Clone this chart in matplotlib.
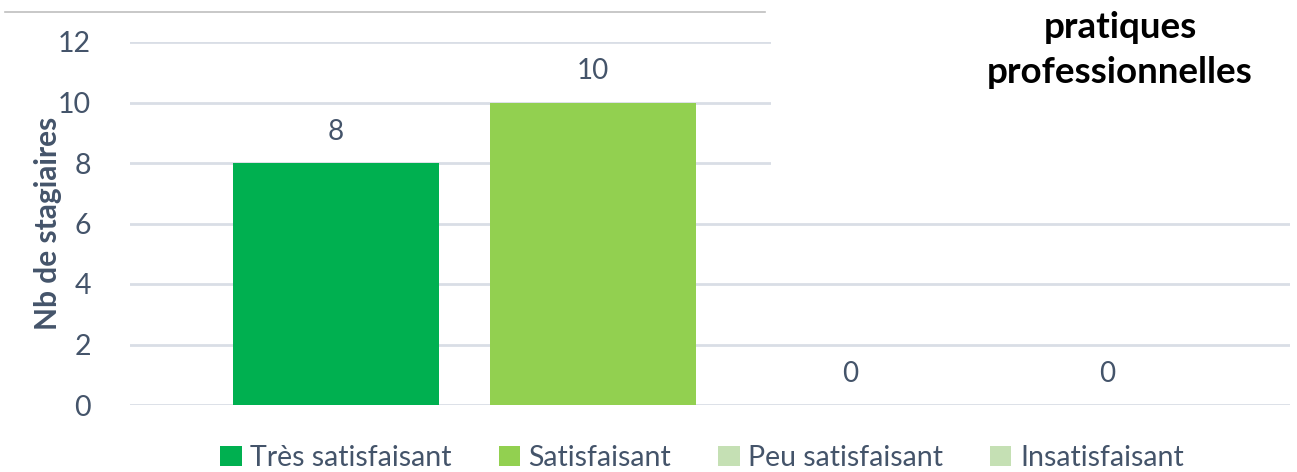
import matplotlib
matplotlib.use("Agg")
import matplotlib.pyplot as plt
from matplotlib.patches import Rectangle
from matplotlib.lines import Line2D

categories = ["Très satisfaisant", "Satisfaisant", "Peu satisfaisant", "Insatisfaisant"]
values = [8, 10, 0, 0]
colors = ["#00B050", "#92D050", "#C5E0B4", "#C5E0B4"]
yticks = [0, 2, 4, 6, 8, 10, 12]
title_lines = "pratiques\nprofessionnelles"
ylabel = "Nb de stagiaires"

TXT = "#44546A"
GRID = "#D9DEE6"
FONT = ["Lato", "DejaVu Sans"]
plt.rcParams["font.family"] = FONT

W, H = 1297, 472
fig = plt.figure(figsize=(W / 100, H / 100), dpi=100)
ax = fig.add_axes([130 / W, 1 - 405 / H, (1290 - 130) / W, (405 - 42) / H])

x = list(range(len(categories)))
bars = ax.bar(x, values, width=0.8, color=colors, linewidth=0, zorder=3)
for xi, v in zip(x, values):
    ax.annotate(str(v), (xi, v), xytext=(0, 13), textcoords="offset points",
                ha="center", va="bottom", fontsize=20, color=TXT)

ax.set_ylim(0, 12)
ax.set_xlim(-0.80, 3.71)
ax.set_yticks(yticks)
ax.set_yticklabels([str(t) for t in yticks], fontsize=20.5, color=TXT)
ax.set_xticks([])
ax.tick_params(axis="y", length=0, pad=28)
ax.grid(axis="y", color=GRID, linewidth=2, zorder=0)
for s in ax.spines.values():
    s.set_visible(False)
ax.set_ylabel(ylabel, fontsize=21.5, fontweight="bold", color=TXT)
ax.yaxis.set_label_coords(-0.059, 0.5)

# white title box covering top right
fig.patches.append(Rectangle((771 / W, 1 - 195 / H), 1 - 771 / W, 195 / H,
                             transform=fig.transFigure, facecolor="white",
                             edgecolor="none", zorder=5))
fig.text(1120 / W, 1 - 50 / H, title_lines, ha="center", va="center",
         fontsize=26.5, fontweight="bold", color="black", linespacing=1.48, zorder=6)

# top border line
fig.add_artist(Line2D([5 / W, 765 / W], [1 - 12 / H, 1 - 12 / H],
                      transform=fig.transFigure, color="#BFBFBF", linewidth=1.2))

handles = [Rectangle((0, 0), 1, 1, facecolor=c) for c in colors]
fig.legend(handles, categories, loc="center", bbox_to_anchor=(702 / W, 1 - 458 / H),
           ncol=4, frameon=False, fontsize=20.5, labelcolor=TXT,
           handlelength=0.75, handleheight=0.7, handletextpad=0.3, columnspacing=1.65)

fig.savefig("out.png", dpi=100)
